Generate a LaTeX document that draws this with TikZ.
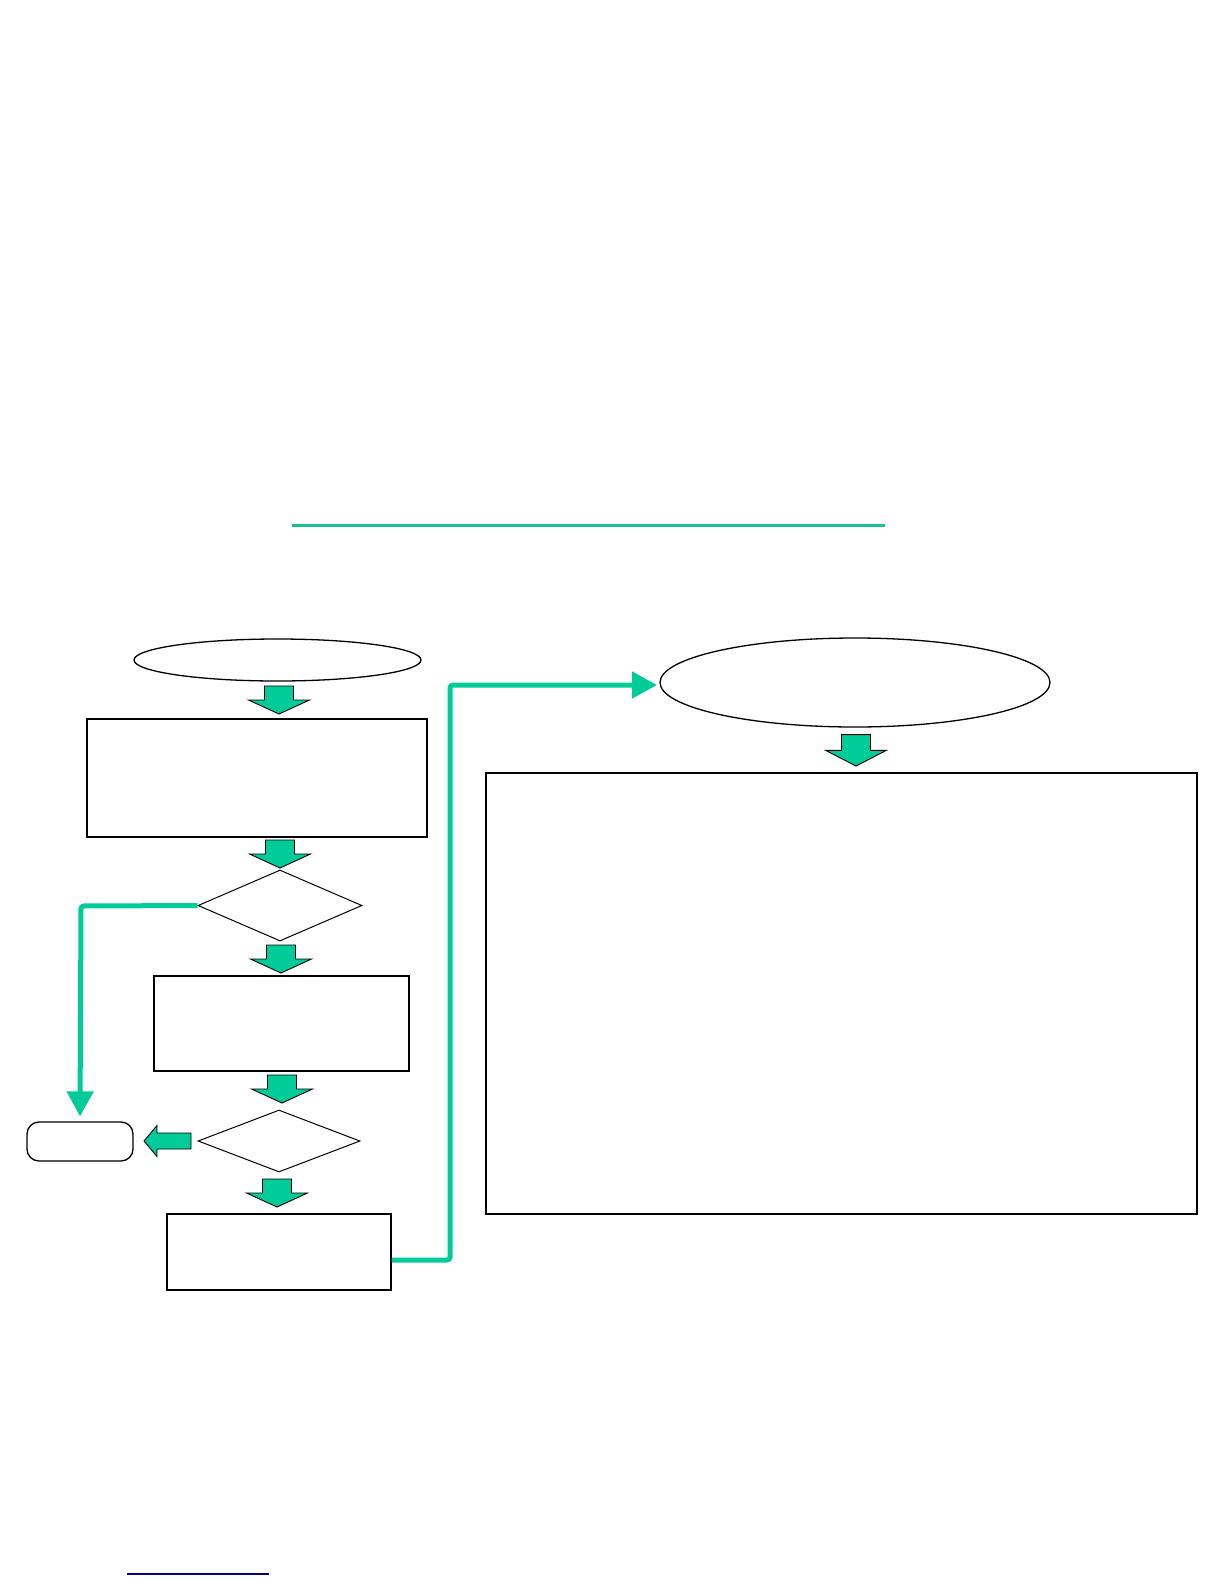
\documentclass[tikz,border=0pt]{standalone}
\usetikzlibrary{shapes.geometric,arrows.meta,calc}
\definecolor{tgreen}{RGB}{0,204,153}
\definecolor{tline}{RGB}{30,192,145}
\definecolor{tnavy}{RGB}{0,0,128}
\begin{document}
\begin{tikzpicture}[x=1pt,y=-1pt,
  boxn/.style={draw=black,line width=1.6pt,rectangle,inner sep=0pt},
  ovaln/.style={draw=black,line width=1.3pt,ellipse,inner sep=0pt},
  decn/.style={draw=black,line width=1pt,diamond,inner sep=0pt},
  endn/.style={draw=black,line width=1.3pt,rectangle,rounded corners=12pt,inner sep=0pt},
  conn/.style={draw=tgreen,line width=5pt,rounded corners=3pt,-{Triangle[length=25pt,width=26pt]}},
  blockfill/.style={fill=tgreen,draw=black,line width=0.9pt,line join=miter},
  downarr/.pic={\path[blockfill] (0,0) -- (-30.5,-14) -- (-14.5,-14) -- (-14.5,-28) -- (14.5,-28) -- (14.5,-14) -- (30.5,-14) -- cycle;},
  leftarr/.pic={\path[blockfill] (0,0) -- (13,-15.5) -- (13,-8) -- (47,-8) -- (47,8) -- (13,8) -- (13,15.5) -- cycle;}
]
\useasboundingbox[fill=white] (0,0) rectangle (1224,1584);

% title rule and footer rule
\coordinate (tl1) at (292,525);
\coordinate (tl2) at (885,525);
\draw[tline,line width=3pt] (tl1) -- (tl2);
\coordinate (fl1) at (127,1574);
\coordinate (fl2) at (269,1574);
\draw[tnavy,line width=1.5pt] (fl1) -- (fl2);

% left column
\node[ovaln,minimum width=287pt,minimum height=42pt] (e1) at (277.5,660) {};
\node[boxn,minimum width=340pt,minimum height=118pt] (b1) at (257,778) {};
\node[decn,minimum width=164pt,minimum height=71pt] (d1) at (280,905.5) {};
\node[boxn,minimum width=255pt,minimum height=95pt] (b2) at (281.5,1023.5) {};
\node[decn,minimum width=162pt,minimum height=62pt] (d2) at (279,1141) {};
\node[endn,minimum width=106pt,minimum height=39pt] (r1) at (80,1141.5) {};
\node[boxn,minimum width=224pt,minimum height=76pt] (b3) at (279,1252) {};

% right column
\node[ovaln,minimum width=390pt,minimum height=89pt] (e2) at (855,682.5) {};
\node[boxn,minimum width=711pt,minimum height=441pt] (b4) at (841.5,993.5) {};

% block arrows
\pic at (279,714) {downarr};
\pic at (280,868) {downarr};
\pic at (281,973) {downarr};
\pic at (282,1103) {downarr};
\pic at (277,1207) {downarr};
\pic[yscale=1.12] at (856,766) {downarr};
\pic at (144,1141) {leftarr};

% connectors
\coordinate (k1) at (81,906);
\draw[conn,shorten >=5pt] (d1.west) -- (k1) -- (r1.north);
\coordinate (s2) at ($(b3.east)+(0,8)$);
\coordinate (k2) at (450,1260);
\coordinate (k3) at (450,685);
\coordinate (t2) at (660,685);
\draw[conn,shorten >=3pt] (s2) -- (k2) -- (k3) -- (t2);
\end{tikzpicture}
\end{document}
